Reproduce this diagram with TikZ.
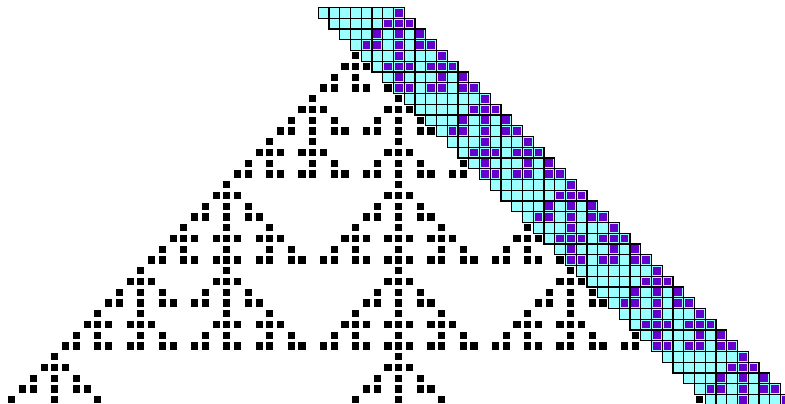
\documentclass[tikz,border=0pt]{standalone}

\definecolor{bandcyan}{RGB}{153,255,255}
\definecolor{bandpurple}{RGB}{102,0,204}

% a cell of row #1, column #2 is alive when rc#1:#2 is defined
\newcommand\alive[2]{\ifcsname rc#1:#2\endcsname 1\else 0\fi}

\tikzset{
  livecell/.style={fill=black},
  bandcell/.style={fill=bandcyan,draw=black,line width=1pt},
  bandlive/.style={fill=bandpurple}
}

\begin{document}
\begin{tikzpicture}[x=.3cm,y=.3cm]
\useasboundingbox (-37.1,1.19) rectangle (35.93,-36.35);
% rule 150 from one cell
\expandafter\gdef\csname rc0:0\endcsname{1}
\foreach \n in {1,...,36}{
  \pgfmathtruncatemacro\m{\n-1}
  \foreach \c in {-\n,...,\n}{
    \pgfmathtruncatemacro\cellL{\c-1}
    \pgfmathtruncatemacro\cellR{\c+1}
    \ifodd\numexpr\alive{\m}{\cellL}+\alive{\m}{\c}+\alive{\m}{\cellR}\relax
      \expandafter\gdef\csname rc\n:\c\endcsname{1}
    \fi
  }
}
% cells left of the band
\foreach \n in {4,...,36}{
  \pgfmathtruncatemacro\last{\n-8}
  \foreach \c in {-\n,...,\last}{
    \ifcsname rc\n:\c\endcsname
      \fill[livecell] (\c-.33,-\n-.33) rectangle ++(.66,.66);
    \fi
  }
}
% the band
\foreach \n in {0,...,36}{
  \foreach \k in {0,...,7}{
    \pgfmathtruncatemacro\c{\n-7+\k}
    \path[bandcell] (\c-.5,-\n-.5) rectangle ++(1,1);
    \ifcsname rc\n:\c\endcsname
      \fill[bandlive] (\c-.36,-\n-.36) rectangle ++(.72,.72);
    \fi
  }
}
\end{tikzpicture}
\end{document}
